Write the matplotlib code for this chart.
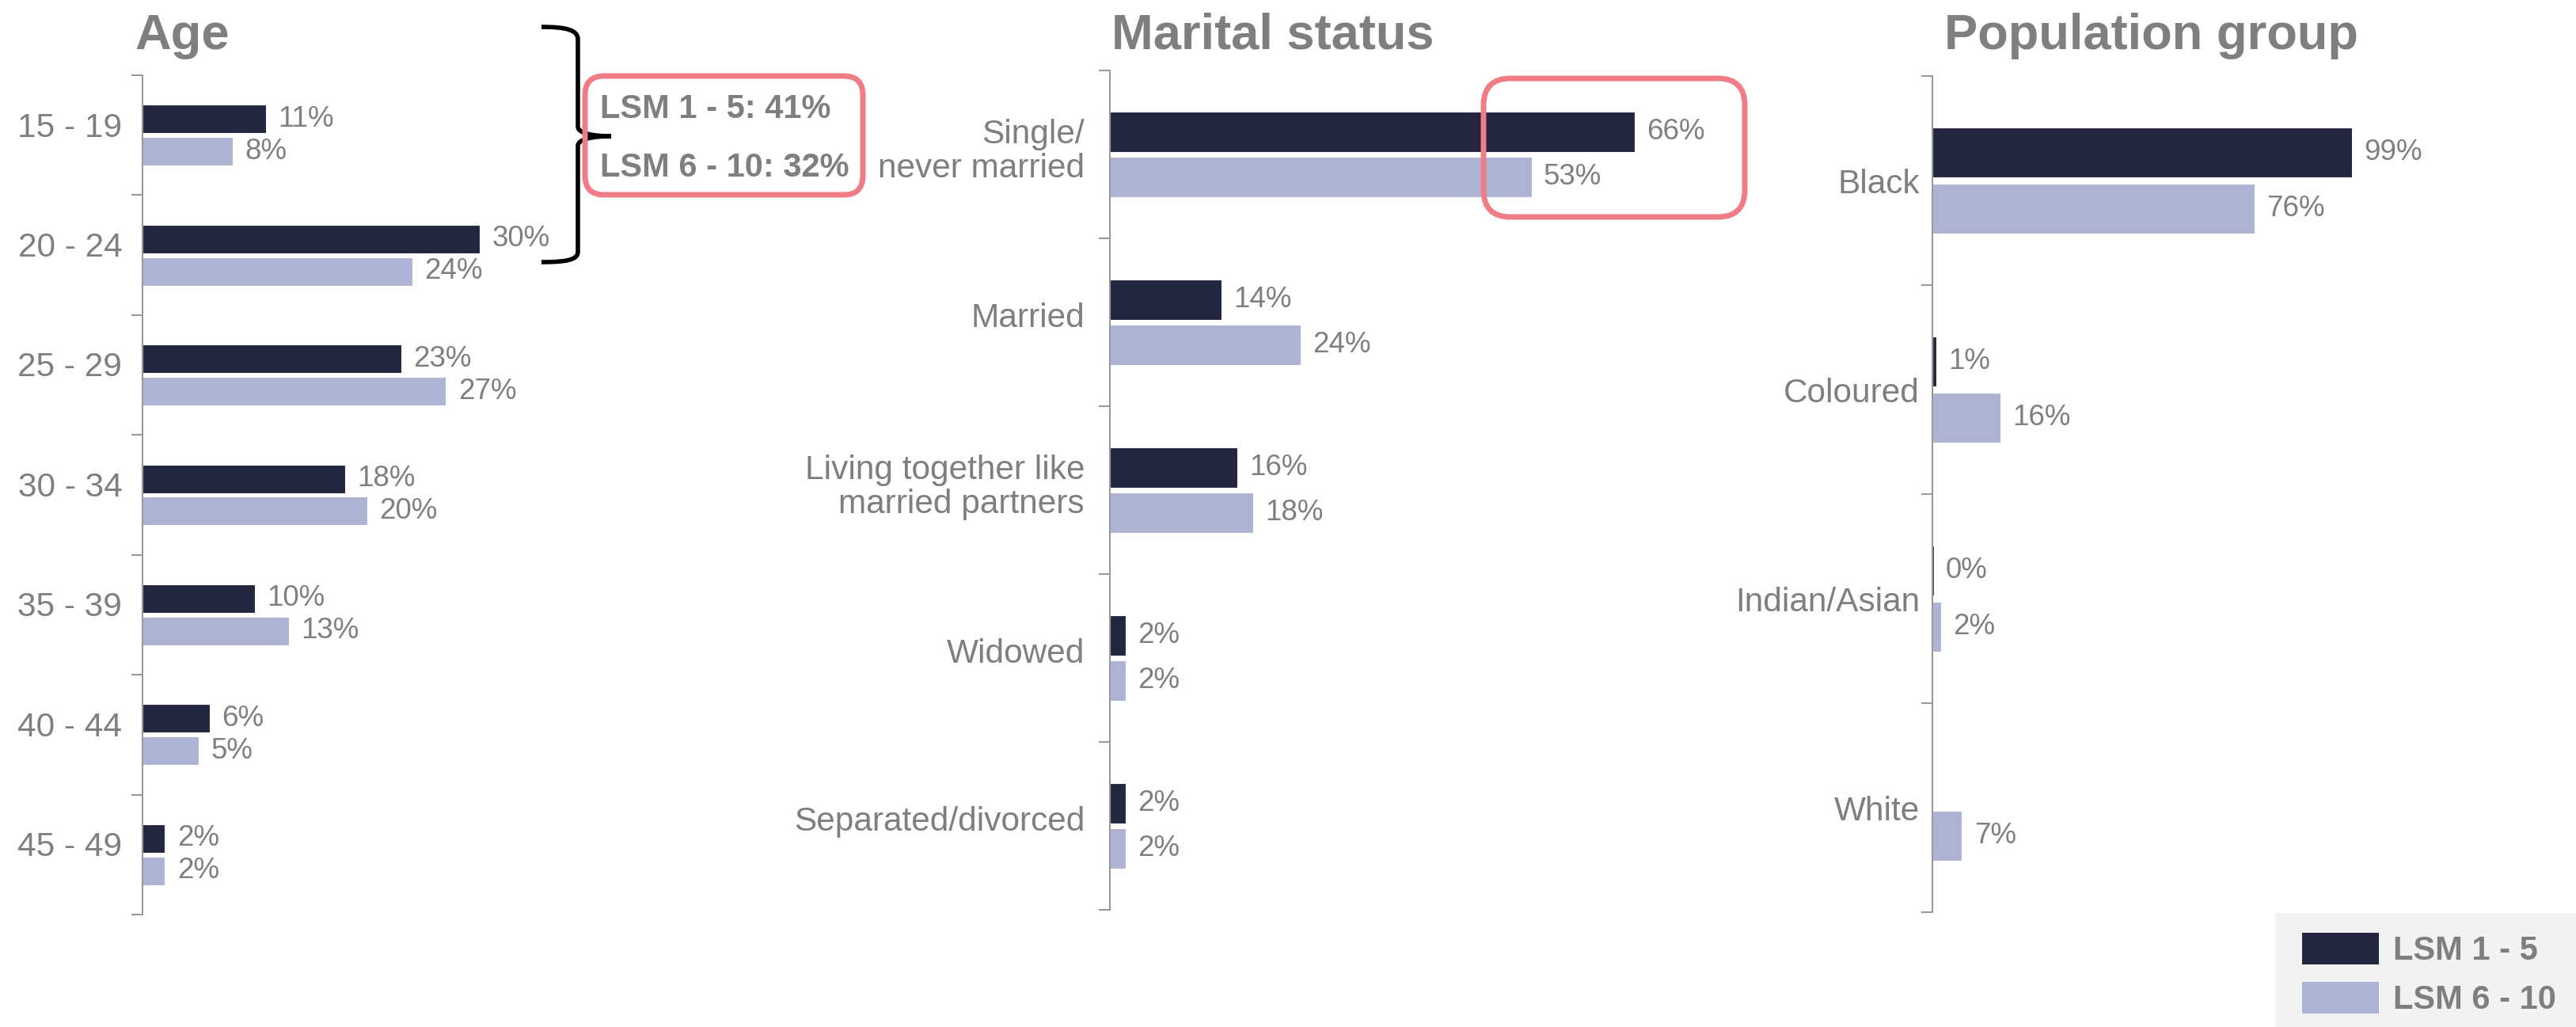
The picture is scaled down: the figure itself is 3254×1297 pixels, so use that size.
import numpy as np
import matplotlib
matplotlib.use("Agg")
import matplotlib.pyplot as plt
from matplotlib.patches import FancyBboxPatch, Rectangle, PathPatch, Patch
from matplotlib.path import Path
from matplotlib.transforms import IdentityTransform

plt.rcParams['font.family'] = ['Liberation Sans', 'DejaVu Sans']

# data
age_groups = ['15 - 19', '20 - 24', '25 - 29', '30 - 34', '35 - 39', '40 - 44', '45 - 49']
age_lsm15 = [11, 30, 23, 18, 10, 6, 2]
age_lsm610 = [8, 24, 27, 20, 13, 5, 2]

marital_groups = ['Single/\nnever married', 'Married', 'Living together like\nmarried partners',
                  'Widowed', 'Separated/divorced']
marital_lsm15 = [66, 14, 16, 2, 2]
marital_lsm610 = [53, 24, 18, 2, 2]

pop_groups = ['Black', 'Coloured', 'Indian/Asian', 'White']
pop_lsm15 = [99, 1, 0.3, np.nan]
pop_lsm610 = [76, 16, 2, 7]

series_names = ['LSM 1 - 5', 'LSM 6 - 10']
DARK = '#22263f'
LIGHT = '#adb3d5'
GREY = '#7f7f7f'
PINK = '#f07c86'

W, H = 3255, 1297
fig = plt.figure(figsize=(W / 100, H / 100), dpi=100)


def px(x, y):
    """pixel position measured from top-left -> display coords"""
    return (x, H - y)


def panel(left, top, bottom, width, px_per_pct, cats, s1, s2, title, title_x, pad, label_shift):
    ax = fig.add_axes([left / W, 1 - bottom / H, width / W, (bottom - top) / H])
    n = len(cats)
    y = np.arange(n)
    h = 0.237
    b1 = ax.barh(y - 0.135, s1, height=h, color=DARK, edgecolor='white', linewidth=0.8)
    b2 = ax.barh(y + 0.135, s2, height=h, color=LIGHT, edgecolor='white', linewidth=0.8)
    lab1 = ['' if np.isnan(v) else f'{round(v):.0f}%' for v in np.asarray(s1, float)]
    lab2 = ['' if np.isnan(v) else f'{round(v):.0f}%' for v in np.asarray(s2, float)]
    ax.bar_label(b1, labels=lab1, padding=11, color=GREY, fontsize=26.5)
    ax.bar_label(b2, labels=lab2, padding=11, color=GREY, fontsize=26.5)
    ax.set_xlim(0, width / px_per_pct)
    ax.set_ylim(n - 0.5, -0.5)
    ax.set_yticks(y - label_shift)
    ax.set_yticklabels(cats, fontsize=30.5, color=GREY, linespacing=1.1)
    ax.tick_params(axis='y', which='major', length=0, pad=pad)
    ax.set_yticks(np.arange(n + 1) - 0.5, minor=True)
    ax.tick_params(axis='y', which='minor', length=10, width=1.5, color='#999999')
    ax.set_xticks([])
    for s in ['top', 'right', 'bottom']:
        ax.spines[s].set_visible(False)
    ax.spines['left'].set_color('#999999')
    ax.spines['left'].set_linewidth(1.5)
    fig.text(title_x / W, 1 - 62 / H, title, fontsize=45.5, fontweight='bold',
             color=GREY, ha='left', va='baseline')
    return ax


panel(180, 95, 1155, 520, 14.2, age_groups, age_lsm15, age_lsm610, 'Age', 170, 18.5, 0.09)
panel(1402, 89, 1149, 900, 10.05, marital_groups, marital_lsm15, marital_lsm610,
      'Marital status', 1404, 23, 0.045)
panel(2441, 96, 1152, 700, 5.35, pop_groups, pop_lsm15, pop_lsm610,
      'Population group', 2456, 11.5, 0)

# curly brace grouping 15-24
verts = [px(684, 34), px(716, 34), px(730, 38), px(730, 50),
         px(730, 160),
         px(730, 168), px(748, 172), px(772, 172),
         px(748, 172), px(730, 176), px(730, 184),
         px(730, 318),
         px(730, 328), px(716, 331), px(684, 331)]
codes = [Path.MOVETO, Path.CURVE4, Path.CURVE4, Path.CURVE4,
         Path.LINETO,
         Path.CURVE4, Path.CURVE4, Path.CURVE4,
         Path.CURVE4, Path.CURVE4, Path.CURVE4,
         Path.LINETO,
         Path.CURVE4, Path.CURVE4, Path.CURVE4]
fig.add_artist(PathPatch(Path(verts, codes), facecolor='none', edgecolor='black',
                         linewidth=4, transform=IdentityTransform()))

# callout boxes
x0, y0 = px(735, 250)
fig.add_artist(FancyBboxPatch((x0 + 4, y0 + 4), 1094 - 735 - 8, 250 - 92 - 8,
                              boxstyle='round,pad=0,rounding_size=24', facecolor='none',
                              edgecolor=PINK, linewidth=5, transform=IdentityTransform()))
x0, y0 = px(1870, 278)
fig.add_artist(FancyBboxPatch((x0 + 4, y0 + 4), 2208 - 1870 - 8, 278 - 95 - 8,
                              boxstyle='round,pad=0,rounding_size=34', facecolor='none',
                              edgecolor=PINK, linewidth=5, transform=IdentityTransform()))
fig.text(758 / W, 1 - 138 / H, 'LSM 1 - 5: 41%', fontsize=30, fontweight='bold',
         color=GREY, ha='left', va='center')
fig.text(758 / W, 1 - 212 / H, 'LSM 6 - 10: 32%', fontsize=30, fontweight='bold',
         color=GREY, ha='left', va='center')

# legend
lx, ly = px(2874, H)
fig.add_artist(Rectangle((lx, ly), W - 2874, H - 1153, facecolor='#f2f2f2',
                         edgecolor='none', transform=IdentityTransform()))
handles = [Patch(facecolor=DARK), Patch(facecolor=LIGHT)]
leg = fig.legend(handles, series_names, loc='upper left',
                 bbox_to_anchor=(2908 / W, 1 - 1178 / H), frameon=False,
                 prop={'size': 30, 'weight': 'bold'}, handlelength=2.33,
                 handleheight=1.1, handletextpad=0.43, labelspacing=0.45,
                 borderpad=0, borderaxespad=0)
for t in leg.get_texts():
    t.set_color(GREY)

fig.savefig('out.png', dpi=100)
